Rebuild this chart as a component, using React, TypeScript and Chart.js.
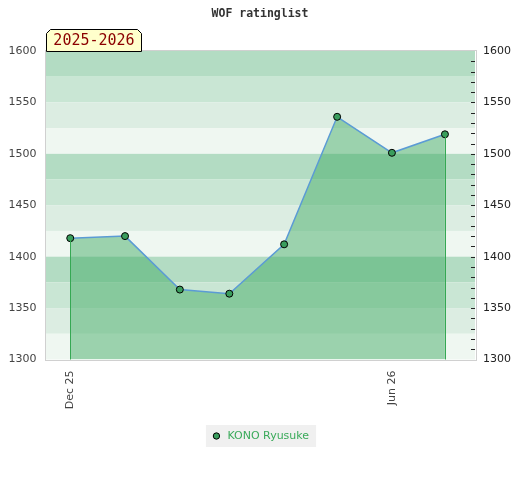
import React, { useEffect, useRef } from "react";
import { Chart, registerables } from "chart.js";

Chart.register(...registerables);

// ---- data ----
const TITLE = "WOF ratinglist";
const SEASON_LABEL = "2025-2026";
const SERIES_NAME = "KONO Ryusuke";
const pointDates = [
  "2025-12-01",
  "2026-01-01",
  "2026-02-01",
  "2026-03-01",
  "2026-04-01",
  "2026-05-01",
  "2026-06-01",
  "2026-07-01",
];
const ratings = [1418, 1420, 1368, 1364, 1412, 1536, 1501, 1519];
const xTickDates = ["2025-12-01", "2026-06-01"];
const xTickLabels = ["Dec 25", "Jun 26"];
const xRangeDates = ["2025-11-17", "2026-07-18"];
const yMin = 1300;
const yMax = 1600;
const yLabelStep = 50;
const yMinorStep = 10;
const bandStep = 25;
const bandColors = ["#b3dcc3", "#c9e6d4", "#dcede2", "#eff7f1"];

const BASE = Date.UTC(2025, 11, 1);
const toDay = (s: string) => {
  const [y, m, d] = s.split("-").map(Number);
  return Math.round((Date.UTC(y, m - 1, d) - BASE) / 86400000);
};

const FONT = "'DejaVu Sans', sans-serif";
const MONO = "'DejaVu Sans Mono', monospace";

const decorPlugin = {
  id: "decor",
  beforeDraw(chart: any) {
    const { ctx, chartArea } = chart;
    const y = chart.scales.y;
    ctx.save();
    let i = 0;
    for (let v = yMax; v > yMin; v -= bandStep) {
      const top = y.getPixelForValue(v);
      const bot = y.getPixelForValue(v - bandStep);
      ctx.fillStyle = bandColors[i % bandColors.length];
      ctx.fillRect(chartArea.left, top, chartArea.right - chartArea.left, bot - top);
      i++;
    }
    const lg = chart.legend;
    if (lg && lg.legendHitBoxes && lg.legendHitBoxes.length) {
      const hb = lg.legendHitBoxes[0];
      const cy = hb.top + hb.height / 2;
      ctx.fillStyle = "#f0f0f0";
      ctx.fillRect(hb.left - 5, cy - 11, hb.width + 12, 22);
    }
    ctx.restore();
  },
  afterDatasetsDraw(chart: any) {
    const { ctx, chartArea } = chart;
    const meta = chart.getDatasetMeta(0);
    const pts = meta.data;
    ctx.save();
    ctx.strokeStyle = "#35a853";
    ctx.lineWidth = 1;
    [pts[0], pts[pts.length - 1]].forEach((p: any) => {
      ctx.beginPath();
      ctx.moveTo(Math.round(p.x) + 0.5, p.y);
      ctx.lineTo(Math.round(p.x) + 0.5, chartArea.bottom);
      ctx.stroke();
    });
    ctx.restore();
  },
  afterDraw(chart: any) {
    const { ctx, chartArea } = chart;
    const y = chart.scales.y;
    ctx.save();
    ctx.strokeStyle = "#d0d0d0";
    ctx.lineWidth = 1;
    ctx.strokeRect(
      Math.round(chartArea.left) - 0.5,
      Math.round(chartArea.top) - 0.5,
      Math.round(chartArea.right - chartArea.left) + 1,
      Math.round(chartArea.bottom - chartArea.top) + 1
    );
    ctx.strokeStyle = "#222";
    for (let v = yMin + yMinorStep; v < yMax; v += yMinorStep) {
      const py = Math.round(y.getPixelForValue(v)) + 0.5;
      ctx.beginPath();
      ctx.moveTo(chartArea.right - 4, py);
      ctx.lineTo(chartArea.right, py);
      ctx.stroke();
    }
    const bx = Math.round(chartArea.left) + 0.5;
    const bw = 95;
    const bh = 22;
    const by = Math.round(chartArea.top) + 0.5;
    const c = 4;
    ctx.beginPath();
    ctx.moveTo(bx, by);
    ctx.lineTo(bx, by - bh + c);
    ctx.lineTo(bx + c, by - bh);
    ctx.lineTo(bx + bw - c, by - bh);
    ctx.lineTo(bx + bw, by - bh + c);
    ctx.lineTo(bx + bw, by);
    ctx.closePath();
    ctx.fillStyle = "#ffffcc";
    ctx.fill();
    ctx.strokeStyle = "#000";
    ctx.stroke();
    ctx.fillStyle = "#8b0000";
    ctx.font = `15px ${MONO}`;
    ctx.textAlign = "center";
    ctx.textBaseline = "middle";
    ctx.fillText(SEASON_LABEL, bx + bw / 2, by - bh / 2 + 1);
    ctx.restore();
  },
};

export default function App() {
  const ref = useRef<HTMLCanvasElement | null>(null);
  useEffect(() => {
    if (!ref.current) return;
    const xs = pointDates.map(toDay);
    const tickDays = xTickDates.map(toDay);
    const chart = new Chart(ref.current, {
      type: "line",
      data: {
        datasets: [
          {
            label: SERIES_NAME,
            data: xs.map((x, i) => ({ x, y: ratings[i] })),
            borderColor: "#5b9bd5",
            borderWidth: 1.5,
            backgroundColor: "rgba(63,170,99,0.48)",
            fill: "start",
            tension: 0,
            pointRadius: 3.5,
            pointBackgroundColor: "#3a9d5d",
            pointBorderColor: "#000",
            pointBorderWidth: 1,
            yAxisID: "y",
          },
        ],
      },
      options: {
        animation: false,
        responsive: true,
        maintainAspectRatio: false,
        layout: { padding: { top: 0, bottom: 20.5, left: 0, right: 0 } },
        plugins: {
          title: {
            display: true,
            text: TITLE,
            color: "#333",
            font: { family: MONO, size: 11.5, weight: "bold", lineHeight: 1 },
            padding: { top: 0, bottom: 31.5 },
          },
          legend: {
            display: true,
            position: "bottom",
            labels: {
              usePointStyle: true,
              pointStyle: "circle",
              boxWidth: 11,
              boxHeight: 4.5,
              color: "#3aaa5a",
              font: { family: FONT, size: 11 },
              padding: 10,
              generateLabels: () => [
                {
                  text: SERIES_NAME,
                  fillStyle: "#3a9d5d",
                  strokeStyle: "#000",
                  lineWidth: 1,
                  pointStyle: "circle",
                  fontColor: "#3aaa5a",
                  datasetIndex: 0,
                  hidden: false,
                },
              ],
            },
          },
          tooltip: { enabled: false },
        },
        scales: {
          x: {
            type: "linear",
            min: toDay(xRangeDates[0]),
            max: toDay(xRangeDates[1]),
            afterBuildTicks: (s: any) => {
              s.ticks = tickDays.map((v) => ({ value: v }));
            },
            afterFit: (s: any) => {
              s.height = 61;
            },
            ticks: {
              autoSkip: false,
              maxRotation: 90,
              minRotation: 90,
              padding: 11,
              color: "#444",
              font: { family: FONT, size: 11 },
              callback: (v: any) => {
                const idx = tickDays.indexOf(Number(v));
                return idx >= 0 ? xTickLabels[idx] : "";
              },
            },
            grid: { display: false, drawTicks: false },
            border: { display: false },
          },
          y: {
            position: "left",
            min: yMin,
            max: yMax,
            afterFit: (s: any) => {
              s.width = 37.5;
            },
            ticks: {
              stepSize: yLabelStep,
              padding: 9,
              color: "#444",
              font: { family: FONT, size: 11 },
              callback: (v: any) => String(v),
            },
            grid: { display: false, drawTicks: false },
            border: { display: false },
          },
          y2: {
            position: "right",
            min: yMin,
            max: yMax,
            afterFit: (s: any) => {
              s.width = 37;
            },
            ticks: {
              stepSize: yLabelStep,
              padding: 8,
              color: "#222",
              font: { family: FONT, size: 11 },
              callback: (v: any) => String(v),
            },
            grid: { display: false, drawTicks: false },
            border: { display: false },
          },
        },
      } as any,
      plugins: [decorPlugin],
    });
    return () => chart.destroy();
  }, []);
  return (
    <div style={{ width: 504, height: 464, position: "relative" }}>
      <canvas ref={ref} />
    </div>
  );
}
